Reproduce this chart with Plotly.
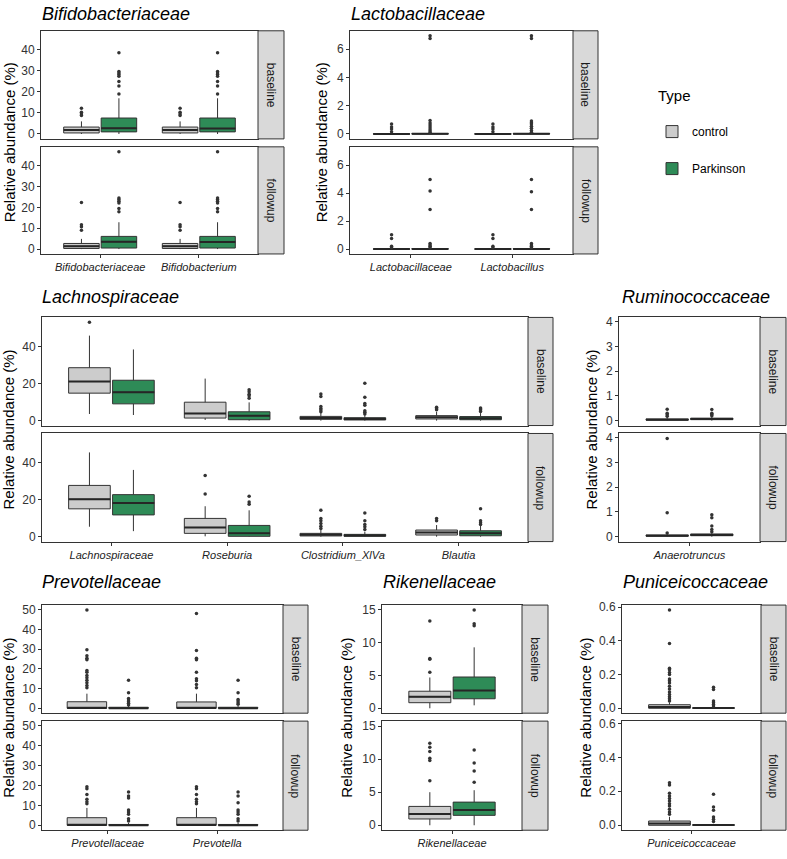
import plotly.graph_objects as go

W, H = 787, 859
FONT = "Liberation Sans, Arial, sans-serif"
CTRL_FILL = "#cccccc"
PD_FILL = "#2e8b57"
LINE = "#333333"

# ---------------- data: stats are [lowerfence, q1, median, q3, upperfence] per category
bif_cats = ["Bifidobacteriaceae", "Bifidobacterium"]
bif_base_ctrl = [[0.0, 0.5, 1.9, 3.3, 6.0], [0.0, 0.5, 1.9, 3.3, 6.0]]
bif_base_ctrl_out = [[12.2, 10.3, 9.5, 8.8], [12.2, 10.3, 9.5, 8.8]]
bif_base_pd = [[0.0, 1.0, 2.7, 7.6, 17.0], [0.0, 1.0, 2.6, 7.6, 17.0]]
bif_base_pd_out = [[38.7, 29.8, 29.0, 28.3, 27.5, 25.0, 22.9, 19.0],
                   [38.7, 29.8, 29.0, 28.3, 27.5, 25.0, 22.9, 19.0]]
bif_fu_ctrl = [[0.0, 0.3, 1.4, 2.7, 4.9], [0.0, 0.3, 1.4, 2.7, 4.9]]
bif_fu_ctrl_out = [[22.4, 11.7, 10.7, 9.1], [22.4, 11.7, 10.7, 9.1]]
bif_fu_pd = [[0.0, 0.5, 3.5, 6.1, 12.9], [0.0, 0.5, 3.4, 6.1, 12.9]]
bif_fu_pd_out = [[46.8, 24.6, 23.8, 23.0, 22.2, 19.5, 18.0],
                 [46.8, 24.6, 23.8, 23.0, 22.2, 19.5, 18.0]]

lac_cats = ["Lactobacillaceae", "Lactobacillus"]
lac_base_ctrl = [[0.0, 0.0, 0.0, 0.01, 0.03], [0.0, 0.0, 0.0, 0.01, 0.03]]
lac_base_ctrl_out = [[0.7, 0.5, 0.35, 0.15], [0.7, 0.5, 0.35, 0.15]]
lac_base_pd = [[0.0, 0.0, 0.01, 0.03, 0.07], [0.0, 0.0, 0.01, 0.03, 0.07]]
lac_base_pd_out = [[6.96, 6.77, 0.96, 0.77, 0.63, 0.49, 0.35, 0.23, 0.12],
                   [6.96, 6.77, 0.92, 0.8, 0.7, 0.55, 0.4, 0.25, 0.12]]
lac_fu_ctrl = [[0.0, 0.0, 0.0, 0.01, 0.03], [0.0, 0.0, 0.0, 0.01, 0.03]]
lac_fu_ctrl_out = [[1.03, 0.75, 0.2, 0.1], [1.03, 0.75, 0.2, 0.1]]
lac_fu_pd = [[0.0, 0.0, 0.01, 0.03, 0.07], [0.0, 0.0, 0.01, 0.03, 0.07]]
lac_fu_pd_out = [[4.97, 4.15, 2.83, 0.4, 0.3, 0.2, 0.1],
                 [4.97, 4.1, 2.83, 0.4, 0.3, 0.2, 0.1]]

lach_cats = ["Lachnospiraceae", "Roseburia", "Clostridium_XlVa", "Blautia"]
lach_base_ctrl = [[3.6, 14.9, 21.2, 28.7, 46.1], [0.36, 1.4, 3.9, 10.0, 22.8],
                  [0.0, 0.7, 1.4, 2.3, 4.5], [0.0, 0.9, 1.8, 2.7, 4.8]]
lach_base_ctrl_out = [[53.3], [], [14.5, 13.1, 7.7, 6.6, 5.7, 4.8], [7.2, 6.5, 5.9]]
lach_base_pd = [[3.05, 9.1, 15.4, 21.9, 38.6], [0.0, 0.5, 2.7, 4.8, 9.9],
                [0.0, 0.35, 0.9, 1.6, 3.0], [0.0, 0.5, 1.25, 2.2, 4.1]]
lach_base_pd_out = [[], [16.7, 15.6, 14.3, 13.5, 12.2],
                    [20.3, 12.7, 9.3, 8.4, 5.4, 4.5, 3.6], [6.8, 6.3, 5.7, 5.0]]
lach_fu_ctrl = [[5.4, 15.1, 20.3, 27.8, 45.7], [0.2, 1.8, 5.0, 9.9, 16.5],
                [0.0, 0.4, 1.1, 1.8, 3.6], [0.0, 0.9, 2.3, 3.6, 6.3]]
lach_fu_ctrl_out = [[], [33.2, 23.1], [14.3, 9.9, 8.6, 7.2, 5.7, 4.5], [9.9, 8.6]]
lach_fu_pd = [[3.0, 11.8, 18.3, 22.8, 36.2], [0.0, 0.2, 1.8, 6.1, 14.3],
              [0.0, 0.2, 0.7, 1.25, 2.7], [0.0, 0.5, 1.8, 3.2, 6.3]]
lach_fu_pd_out = [[], [21.9, 18.8, 17.6], [12.9, 8.6, 6.6, 5.4, 3.9], [15.2, 8.6, 7.5, 6.6]]

rum_cats = ["Anaerotruncus"]
rum_base_ctrl = [[0.0, 0.02, 0.04, 0.07, 0.14]]
rum_base_ctrl_out = [[0.46, 0.3, 0.24, 0.18]]
rum_base_pd = [[0.0, 0.04, 0.07, 0.1, 0.18]]
rum_base_pd_out = [[0.45, 0.3, 0.25, 0.2]]
rum_fu_ctrl = [[0.0, 0.02, 0.04, 0.07, 0.12]]
rum_fu_ctrl_out = [[3.97, 0.97, 0.15]]
rum_fu_pd = [[0.0, 0.04, 0.07, 0.11, 0.17]]
rum_fu_pd_out = [[0.89, 0.76, 0.43, 0.29, 0.2]]

prev_cats = ["Prevotellaceae", "Prevotella"]
prev_base_ctrl = [[0.0, 0.0, 0.17, 3.3, 7.4], [0.0, 0.0, 0.1, 3.2, 7.4]]
prev_base_ctrl_out = [[49.8, 29.6, 26.6, 25.4, 24.6, 19.2, 18.2, 16.6, 15.4, 14.2, 12.9, 11.5, 10.4],
                      [48.0, 29.3, 25.4, 24.6, 18.2, 15.0, 14.0, 12.0, 10.4]]
prev_base_pd = [[0.0, 0.0, 0.05, 0.5, 1.2], [0.0, 0.0, 0.05, 0.5, 1.2]]
prev_base_pd_out = [[14.2, 7.9, 5.0, 4.2, 3.3, 2.5, 1.7],
                    [14.2, 7.9, 4.5, 3.7, 2.8, 2.0]]
prev_fu_ctrl = [[0.0, 0.0, 0.15, 3.8, 8.7], [0.0, 0.0, 0.15, 3.8, 8.7]]
prev_fu_ctrl_out = [[19.3, 18.3, 15.5, 13.0, 11.8, 10.8],
                    [19.3, 18.3, 15.5, 13.0, 11.8, 10.8]]
prev_fu_pd = [[0.0, 0.0, 0.05, 0.4, 1.2], [0.0, 0.0, 0.05, 0.4, 1.2]]
prev_fu_pd_out = [[16.7, 14.7, 13.7, 7.7, 6.7, 5.5, 3.3, 2.2],
                  [16.7, 14.7, 11.3, 7.7, 6.7, 5.5, 3.3, 2.2]]

rik_cats = ["Rikenellaceae"]
rik_base_ctrl = [[0.0, 0.85, 1.75, 2.6, 4.7]]
rik_base_ctrl_out = [[13.3, 7.6, 7.5, 5.5]]
rik_base_pd = [[0.45, 1.45, 2.7, 4.77, 9.3]]
rik_base_pd_out = [[15.0, 12.9, 12.6]]
rik_fu_ctrl = [[0.0, 0.95, 1.7, 2.85, 5.0]]
rik_fu_ctrl_out = [[12.4, 11.8, 11.15, 10.15, 9.8, 6.75]]
rik_fu_pd = [[0.0, 1.5, 2.3, 3.5, 5.3]]
rik_fu_pd_out = [[11.4, 9.4, 8.2, 6.5]]

pun_cats = ["Puniceicoccaceae"]
pun_base_ctrl = [[0.0, 0.0, 0.008, 0.021, 0.035]]
pun_base_ctrl_out = [[0.584, 0.385, 0.238, 0.229, 0.213, 0.2, 0.174, 0.164, 0.15, 0.131,
                      0.115, 0.096, 0.082, 0.068, 0.057, 0.043]]
pun_base_pd = [[0.0, 0.0, 0.001, 0.003, 0.008]]
pun_base_pd_out = [[0.125, 0.111, 0.043, 0.033, 0.023, 0.014]]
pun_fu_ctrl = [[0.0, 0.0, 0.01, 0.025, 0.05]]
pun_fu_ctrl_out = [[0.25, 0.237, 0.188, 0.173, 0.157, 0.143, 0.127, 0.114, 0.094, 0.078, 0.065]]
pun_fu_pd = [[0.0, 0.0, 0.001, 0.003, 0.008]]
pun_fu_pd_out = [[0.182, 0.108, 0.088, 0.049, 0.035, 0.022]]

timepoints = ["baseline", "followup"]
groups = ["control", "Parkinson"]

# ---------------- layout (pixels)
panels = [
    dict(title="Bifidobacteriaceae", cats=bif_cats, dtick=10, fmt="",
         rows=[(bif_base_ctrl, bif_base_ctrl_out, bif_base_pd, bif_base_pd_out),
               (bif_fu_ctrl, bif_fu_ctrl_out, bif_fu_pd, bif_fu_pd_out)],
         x0=41, x1=258, xs=284, ys=[(26, 135), (143, 251)], tx=40, ty=9, ytx=9),
    dict(title="Lactobacillaceae", cats=lac_cats, dtick=2, fmt="",
         rows=[(lac_base_ctrl, lac_base_ctrl_out, lac_base_pd, lac_base_pd_out),
               (lac_fu_ctrl, lac_fu_ctrl_out, lac_fu_pd, lac_fu_pd_out)],
         x0=350, x1=573, xs=598, ys=[(26, 135), (143, 251)], tx=349, ty=9, ytx=321),
    dict(title="Lachnospiraceae", cats=lach_cats, dtick=20, fmt="",
         rows=[(lach_base_ctrl, lach_base_ctrl_out, lach_base_pd, lach_base_pd_out),
               (lach_fu_ctrl, lach_fu_ctrl_out, lach_fu_pd, lach_fu_pd_out)],
         x0=42, x1=528, xs=553, ys=[(315, 424), (432, 541)], tx=40, ty=294, ytx=9),
    dict(title="Ruminococcaceae", cats=rum_cats, dtick=1, fmt="",
         rows=[(rum_base_ctrl, rum_base_ctrl_out, rum_base_pd, rum_base_pd_out),
               (rum_fu_ctrl, rum_fu_ctrl_out, rum_fu_pd, rum_fu_pd_out)],
         x0=619, x1=760, xs=786, ys=[(315, 424), (432, 541)], tx=620, ty=294, ytx=592),
    dict(title="Prevotellaceae", cats=prev_cats, dtick=10, fmt="",
         rows=[(prev_base_ctrl, prev_base_ctrl_out, prev_base_pd, prev_base_pd_out),
               (prev_fu_ctrl, prev_fu_ctrl_out, prev_fu_pd, prev_fu_pd_out)],
         x0=42, x1=283, xs=308, ys=[(605, 714), (722, 832)], tx=40, ty=582, ytx=9),
    dict(title="Rikenellaceae", cats=rik_cats, dtick=5, fmt="",
         rows=[(rik_base_ctrl, rik_base_ctrl_out, rik_base_pd, rik_base_pd_out),
               (rik_fu_ctrl, rik_fu_ctrl_out, rik_fu_pd, rik_fu_pd_out)],
         x0=382, x1=522, xs=548, ys=[(605, 714), (722, 832)], tx=381, ty=582, ytx=347),
    dict(title="Puniceicoccaceae", cats=pun_cats, dtick=0.2, fmt=".1f",
         rows=[(pun_base_ctrl, pun_base_ctrl_out, pun_base_pd, pun_base_pd_out),
               (pun_fu_ctrl, pun_fu_ctrl_out, pun_fu_pd, pun_fu_pd_out)],
         x0=622, x1=761, xs=786, ys=[(605, 714), (722, 832)], tx=621, ty=582, ytx=586),
]

OFF = 0.19
BW = 0.36

fig = go.Figure()
layout_axes = {}
shapes = []
annotations = []
k = 0
legend_done = set()


def px_x(v):
    return v / W


def px_y(v):
    return 1 - v / H


for p in panels:
    allv = []
    for row in p["rows"]:
        for part in row:
            for lst in part:
                allv.extend(lst)
    lo, hi = min(allv), max(allv)
    pad = 0.05 * (hi - lo)
    yr = [lo - pad, hi + pad]
    n = len(p["cats"])
    for r, row in enumerate(p["rows"]):
        k += 1
        xname = "x" if k == 1 else f"x{k}"
        yname = "y" if k == 1 else f"y{k}"
        xkey = "xaxis" if k == 1 else f"xaxis{k}"
        ykey = "yaxis" if k == 1 else f"yaxis{k}"
        yt, yb = p["ys"][r]
        bottom = (r == 1)
        layout_axes[xkey] = dict(
            domain=[px_x(p["x0"]), px_x(p["x1"])], anchor=yname,
            range=[0.4, n + 0.6], tickmode="array",
            tickvals=list(range(1, n + 1)),
            ticktext=[f"<i>{c}</i>" for c in p["cats"]],
            showticklabels=bottom, ticks="outside" if bottom else "",
            ticklen=3, tickcolor=LINE, tickwidth=1,
            showline=True, mirror=True, linecolor=LINE, linewidth=1,
            showgrid=False, zeroline=False, fixedrange=True,
            tickfont=dict(size=11, color="#222222", family=FONT))
        layout_axes[ykey] = dict(
            domain=[px_y(yb), px_y(yt)], anchor=xname, range=yr,
            dtick=p["dtick"], tick0=0, tickformat=p["fmt"],
            ticks="outside", ticklen=3, tickcolor=LINE, tickwidth=1,
            showline=True, mirror=True, linecolor=LINE, linewidth=1,
            showgrid=False, zeroline=False, fixedrange=True,
            tickfont=dict(size=12, color="#333333", family=FONT))
        ctrl, ctrl_out, pd_, pd_out = row
        for g, (stats, outs, fill, off) in enumerate(
                [(ctrl, ctrl_out, CTRL_FILL, -OFF), (pd_, pd_out, PD_FILL, OFF)]):
            xs = [i + 1 + off for i in range(n)]
            show = groups[g] not in legend_done
            legend_done.add(groups[g])
            fig.add_trace(go.Box(
                x=xs,
                lowerfence=[s[0] for s in stats], q1=[s[1] for s in stats],
                median=[s[2] for s in stats], q3=[s[3] for s in stats],
                upperfence=[s[4] for s in stats],
                width=BW, fillcolor=fill, line=dict(color=LINE, width=1),
                whiskerwidth=0, boxpoints=False, name=groups[g],
                legendgroup=groups[g], showlegend=show,
                hoverinfo="skip", xaxis=xname, yaxis=yname))
            # thicker median line
            mx, my = [], []
            for xi, s in zip(xs, stats):
                mx += [xi - BW / 2, xi + BW / 2, None]
                my += [s[2], s[2], None]
            fig.add_trace(go.Scatter(x=mx, y=my, mode="lines",
                                     line=dict(color="#262626", width=2),
                                     showlegend=False, hoverinfo="skip",
                                     xaxis=xname, yaxis=yname))
            ox, oy = [], []
            for xi, o in zip(xs, outs):
                ox += [xi] * len(o)
                oy += o
            fig.add_trace(go.Scatter(x=ox, y=oy, mode="markers",
                                     marker=dict(color=LINE, size=3.5),
                                     showlegend=False, hoverinfo="skip",
                                     xaxis=xname, yaxis=yname))
        # strip
        shapes.append(dict(type="rect", xref="paper", yref="paper",
                           x0=px_x(p["x1"]), x1=px_x(p["xs"]),
                           y0=px_y(yb), y1=px_y(yt),
                           fillcolor="#d9d9d9", line=dict(color=LINE, width=1),
                           layer="above"))
        annotations.append(dict(text=timepoints[r], xref="paper", yref="paper",
                                x=px_x((p["x1"] + p["xs"]) / 2), y=px_y((yt + yb) / 2),
                                xanchor="center", yanchor="middle",
                                textangle=90, showarrow=False,
                                font=dict(size=12, color="#1a1a1a", family=FONT)))
    # title and y-axis title
    annotations.append(dict(text=f"<i>{p['title']}</i>", xref="paper", yref="paper",
                            x=px_x(p["tx"]), y=px_y(p["ty"]), xanchor="left",
                            yanchor="middle", showarrow=False,
                            font=dict(size=18, color="black", family=FONT)))
    annotations.append(dict(text="Relative abundance (%)", xref="paper", yref="paper",
                            x=px_x(p["ytx"]), y=px_y((p["ys"][0][0] + p["ys"][1][1]) / 2),
                            xanchor="center", yanchor="middle",
                            textangle=-90, showarrow=False,
                            font=dict(size=15, color="black", family=FONT)))

# legend title
annotations.append(dict(text="Type", xref="paper", yref="paper",
                        x=px_x(656), y=px_y(91), xanchor="left", yanchor="middle",
                        showarrow=False, font=dict(size=15, color="black", family=FONT)))

fig.update_layout(
    width=W, height=H, margin=dict(l=0, r=0, t=0, b=0),
    paper_bgcolor="white", plot_bgcolor="white",
    boxmode="overlay", shapes=shapes, annotations=annotations,
    font=dict(family=FONT, color="black"),
    legend=dict(x=px_x(652), y=px_y(113), xanchor="left", yanchor="top",
                font=dict(size=12, family=FONT), traceorder="grouped",
                tracegroupgap=18, bgcolor="rgba(0,0,0,0)"),
    **layout_axes)

fig.write_html("out.html", config={"displayModeBar": False},
               post_script="document.body.style.margin='0';document.body.style.padding='0';")
